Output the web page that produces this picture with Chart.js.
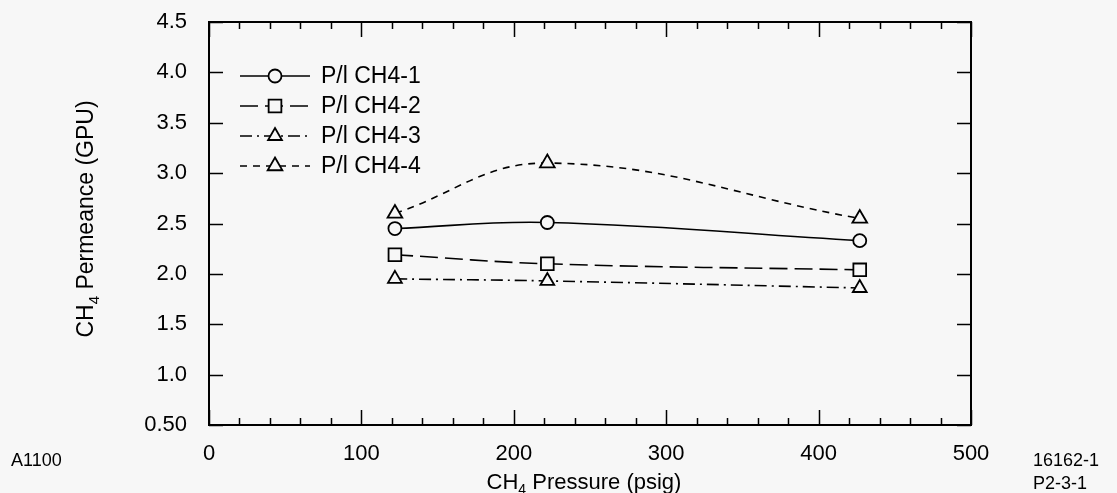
<!DOCTYPE html>
<html>
<head>
<meta charset="utf-8">
<script src="https://cdn.jsdelivr.net/npm/chart.js@4.4.0/dist/chart.umd.min.js"></script>
<style>
  html, body { margin: 0; padding: 0; background: #f7f7f7; }
  #grafico { display: block; }
</style>
</head>
<body>
<canvas id="grafico" width="1117" height="493"></canvas>
<script>
// dados
var pressoes = [122, 222, 427];
var permCH4_1 = [2.45, 2.51, 2.33];
var permCH4_2 = [2.19, 2.10, 2.04];
var permCH4_3 = [1.95, 1.93, 1.86];
var permCH4_4 = [2.60, 3.10, 2.55];
var nomesSeries = ['P/l CH4-1', 'P/l CH4-2', 'P/l CH4-3', 'P/l CH4-4'];
var xTickLabels = ['0', '100', '200', '300', '400', '500'];
var yTickLabels = ['0.50', '1.0', '1.5', '2.0', '2.5', '3.0', '3.5', '4.0', '4.5'];

var corFundo = '#f7f7f7';
var corTinta = '#000000';
var fonte = '"Liberation Sans", Arial, sans-serif';

function pontos(valores) {
    var lista = [];
    for (var i = 0; i < pressoes.length; i++) {
        lista.push({ x: pressoes[i], y: valores[i] });
    }
    return lista;
}

function serie(nome, valores, estilo, raio, tracejado) {
    return {
        label: nome,
        data: pontos(valores),
        borderColor: corTinta,
        borderWidth: 1.6,
        borderDash: tracejado,
        tension: 0.4,
        pointStyle: estilo,
        pointRadius: raio,
        pointHoverRadius: raio,
        pointBorderWidth: 1.8,
        pointBorderColor: corTinta,
        pointBackgroundColor: corFundo
    };
}

// fundo, moldura, ticks para dentro
const moldura = {
    id: 'moldura',
    beforeDraw(chart) {
        const ctx = chart.ctx;
        ctx.save();
        ctx.fillStyle = corFundo;
        ctx.fillRect(0, 0, chart.width, chart.height);
        ctx.restore();
    },
    afterDatasetsDraw(chart) {
        const ctx = chart.ctx;
        const area = chart.chartArea;
        const xs = chart.scales.x;
        const ys = chart.scales.y;
        ctx.save();
        ctx.strokeStyle = corTinta;
        ctx.setLineDash([]);
        ctx.lineWidth = 1.5;
        xs.ticks.forEach(t => {
            var px = Math.round(xs.getPixelForValue(t.value)) + 0.5;
            var maior = Math.round(t.value) % 100 === 0;
            var len = maior ? 15 : 7;
            ctx.beginPath();
            ctx.moveTo(px, area.bottom);
            ctx.lineTo(px, area.bottom - len);
            ctx.moveTo(px, area.top);
            ctx.lineTo(px, area.top + len);
            ctx.stroke();
        });
        ys.ticks.forEach(t => {
            var py = Math.round(ys.getPixelForValue(t.value)) + 0.5;
            ctx.beginPath();
            ctx.moveTo(area.left, py);
            ctx.lineTo(area.left + 14, py);
            ctx.moveTo(area.right, py);
            ctx.lineTo(area.right - 14, py);
            ctx.stroke();
        });
        ctx.lineWidth = 2;
        ctx.strokeRect(area.left, area.top, area.right - area.left, area.bottom - area.top);
        ctx.restore();
    }
};

// legenda dentro do grafico com linha + marcador
const legendaInterna = {
    id: 'legendaInterna',
    afterDraw(chart) {
        const ctx = chart.ctx;
        const area = chart.chartArea;
        ctx.save();
        chart.data.datasets.forEach((ds, i) => {
            var y = area.top + 54 + i * 30;
            var x0 = area.left + 31;
            var x1 = area.left + 101;
            ctx.strokeStyle = corTinta;
            ctx.lineWidth = 1.6;
            ctx.setLineDash(ds.borderDash || []);
            ctx.beginPath();
            ctx.moveTo(x0, y);
            ctx.lineTo(x1, y);
            ctx.stroke();
            ctx.setLineDash([]);
            ctx.fillStyle = corFundo;
            ctx.lineWidth = ds.pointBorderWidth;
            Chart.helpers.drawPoint(ctx, {
                pointStyle: ds.pointStyle,
                radius: ds.pointRadius,
                rotation: 0,
                borderWidth: ds.pointBorderWidth
            }, (x0 + x1) / 2, y);
            ctx.fillStyle = corTinta;
            ctx.font = '23px ' + fonte;
            ctx.textAlign = 'left';
            ctx.textBaseline = 'middle';
            ctx.fillText(ds.label, x1 + 11, y + 1);
        });
        ctx.restore();
    }
};

// titulos com subscrito e anotacoes
function textoSub(ctx, partes, x, y, rotacao, tam) {
    var tamSub = Math.round(tam * 0.65);
    ctx.save();
    ctx.translate(x, y);
    ctx.rotate(rotacao);
    var total = 0;
    partes.forEach(p => {
        ctx.font = (p.sub ? tamSub : tam) + 'px ' + fonte;
        total += ctx.measureText(p.t).width;
    });
    var cx = -total / 2;
    ctx.textBaseline = 'middle';
    ctx.textAlign = 'left';
    partes.forEach(p => {
        ctx.font = (p.sub ? tamSub : tam) + 'px ' + fonte;
        ctx.fillText(p.t, cx, p.sub ? tam * 0.32 : 0);
        cx += ctx.measureText(p.t).width;
    });
    ctx.restore();
}

const titulos = {
    id: 'titulos',
    afterDraw(chart) {
        const ctx = chart.ctx;
        ctx.save();
        ctx.fillStyle = corTinta;
        textoSub(ctx, [{ t: 'CH' }, { t: '4', sub: true }, { t: ' Pressure (psig)' }],
            584, 483, 0, 22);
        textoSub(ctx, [{ t: 'CH' }, { t: '4', sub: true }, { t: ' Permeance (GPU)' }],
            87, 219, -Math.PI / 2, 23);
        ctx.font = '18px ' + fonte;
        ctx.textBaseline = 'middle';
        ctx.textAlign = 'left';
        ctx.fillText('A1100', 11, 461);
        ctx.fillText('16162-1', 1033, 461);
        ctx.fillText('P2-3-1', 1033, 484);
        ctx.restore();
    }
};

const configPermeancia = {
    type: 'line',
    data: {
        datasets: [
            serie(nomesSeries[0], permCH4_1, 'circle', 6.5, []),
            serie(nomesSeries[1], permCH4_2, 'rect', 9, [18, 7]),
            serie(nomesSeries[2], permCH4_3, 'triangle', 8, [12, 5, 2, 5]),
            serie(nomesSeries[3], permCH4_4, 'triangle', 8.5, [7, 6])
        ]
    },
    options: {
        responsive: false,
        animation: false,
        layout: { padding: { left: 0, right: 146, top: 22, bottom: 0 } },
        plugins: {
            legend: { display: false },
            tooltip: { enabled: false }
        },
        scales: {
            x: {
                type: 'linear',
                min: 0,
                max: 500,
                afterFit: function (scale) {
                    scale.height = 68;
                    scale.paddingLeft = 0;
                    scale.paddingRight = 0;
                },
                grid: { display: false, drawTicks: false },
                border: { display: false },
                ticks: {
                    stepSize: 20,
                    autoSkip: false,
                    maxRotation: 0,
                    padding: 16,
                    color: corTinta,
                    font: { family: fonte, size: 22 },
                    callback: function (value) {
                        var v = Math.round(value);
                        return v % 100 === 0 ? xTickLabels[v / 100] : '';
                    }
                }
            },
            y: {
                type: 'linear',
                min: 0.5,
                max: 4.5,
                afterFit: function (scale) {
                    scale.width = 209;
                    scale.paddingTop = 0;
                    scale.paddingBottom = 0;
                },
                grid: { display: false, drawTicks: false },
                border: { display: false },
                ticks: {
                    stepSize: 0.5,
                    autoSkip: false,
                    padding: 22,
                    color: corTinta,
                    font: { family: fonte, size: 22 },
                    callback: function (value, index) {
                        return yTickLabels[index];
                    }
                }
            }
        }
    },
    plugins: [moldura, legendaInterna, titulos]
};

let chartPermeancia = new Chart(
    document.getElementById('grafico'),
    configPermeancia
);
</script>
</body>
</html>
